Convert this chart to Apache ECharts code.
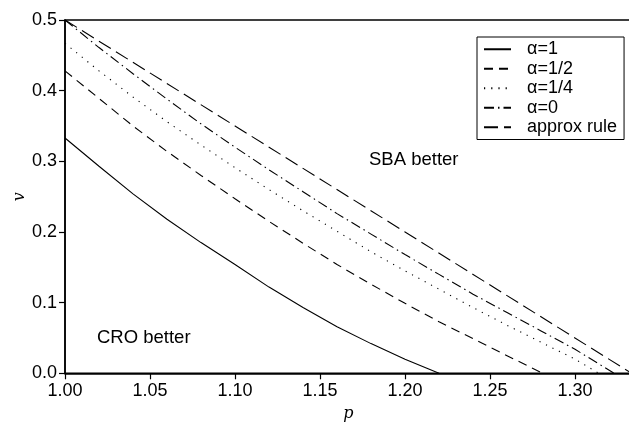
<!DOCTYPE html>
<html>
<head>
<meta charset="utf-8">
<script src="https://cdn.jsdelivr.net/npm/echarts@6/dist/echarts.min.js"></script>
<style>
  html, body { margin: 0; padding: 0; background: #fff; }
  #chart { width: 629px; height: 423px; }
</style>
</head>
<body>
<div id="chart"></div>
<script>
// values
const pAlpha1 = [1.00, 1.02, 1.04, 1.06, 1.08, 1.10, 1.12, 1.14, 1.16, 1.18, 1.20, 1.22];
const vAlpha1 = [0.333, 0.293, 0.254, 0.218, 0.185, 0.154, 0.122, 0.093, 0.066, 0.042, 0.020, 0.0];

const pAlphaHalf = [1.00, 1.02, 1.04, 1.06, 1.08, 1.10, 1.12, 1.14, 1.16, 1.18, 1.20, 1.22, 1.24, 1.26, 1.281];
const vAlphaHalf = [0.428, 0.389, 0.350, 0.314, 0.280, 0.247, 0.215, 0.184, 0.154, 0.126, 0.099, 0.073, 0.049, 0.025, 0.0];

const pAlphaQuarter = [1.00, 1.02, 1.04, 1.06, 1.08, 1.10, 1.12, 1.14, 1.16, 1.18, 1.20, 1.22, 1.24, 1.26, 1.28, 1.30, 1.314];
const vAlphaQuarter = [0.467, 0.428, 0.391, 0.356, 0.323, 0.291, 0.260, 0.230, 0.201, 0.172, 0.145, 0.119, 0.093, 0.068, 0.044, 0.020, 0.0];

const pAlpha0 = [1.00, 1.02, 1.04, 1.06, 1.08, 1.10, 1.12, 1.14, 1.16, 1.18, 1.20, 1.22, 1.24, 1.26, 1.28, 1.30, 1.323];
const vAlpha0 = [0.500, 0.461, 0.424, 0.388, 0.353, 0.320, 0.288, 0.257, 0.226, 0.197, 0.168, 0.140, 0.112, 0.086, 0.060, 0.034, 0.0];

const pApprox = [1.00, 1.10, 1.20, 1.3333];
const vApprox = [0.500, 0.350, 0.200, 0.0];

const seriesNames = ['α=1', 'α=1/2', 'α=1/4', 'α=0', 'approx rule'];
const xTicks = [1.00, 1.05, 1.10, 1.15, 1.20, 1.25, 1.30];
const yTicks = [0.0, 0.1, 0.2, 0.3, 0.4, 0.5];

const zip = (xs, ys) => xs.map((x, i) => [x, ys[i]]);
const font = 'Liberation Sans, Arial, Helvetica, sans-serif';

const chart = echarts.init(document.getElementById('chart'));

const mkLine = (name, data, type) => ({
    name: name,
    type: 'line',
    data: data,
    symbol: 'none',
    silent: true,
    animation: false,
    itemStyle: { color: '#000' },
    lineStyle: { color: '#000', width: 1.1, type: type }
});

chart.setOption({
    backgroundColor: '#fff',
    animation: false,
    textStyle: { fontFamily: font, color: '#000' },
    grid: {
        left: 65, top: 20, width: 566.7, height: 353.3,
        show: true, borderColor: '#000', borderWidth: 1.5,
        outerBoundsMode: 'none'
    },
    legend: {
        orient: 'vertical',
        left: 477, top: 37,
        padding: [3, 7, 3, 6],
        borderColor: '#000', borderWidth: 1, borderRadius: 0,
        itemWidth: 27, itemHeight: 10, itemGap: 1,
        itemStyle: { opacity: 0 },
        data: seriesNames,
        textStyle: { fontSize: 18, lineHeight: 18.5, color: '#000', fontFamily: font, padding: [0, 0, 0, 11] },
        selectedMode: false
    },
    xAxis: {
        type: 'value', min: 1, max: 4 / 3, interval: 0.05,
        name: 'p', nameLocation: 'middle', nameGap: 33, nameMoveOverlap: false,
        nameTextStyle: { fontFamily: 'DejaVu Serif, serif', fontStyle: 'italic', fontSize: 16, color: '#000' },
        axisLine: { onZero: false, lineStyle: { color: '#000', width: 1.5 } },
        axisTick: { length: 6, lineStyle: { color: '#000', width: 1.2 } },
        splitLine: { show: false },
        showMaxLabel: false,
        axisLabel: {
            fontSize: 18, color: '#000', margin: 9,
            formatter: v => (xTicks.some(t => Math.abs(t - v) < 1e-6) ? v.toFixed(2) : '')
        }
    },
    yAxis: {
        type: 'value', min: 0, max: 0.5, interval: 0.1,
        name: 'v', nameLocation: 'middle', nameGap: 37, nameRotate: 90, nameMoveOverlap: false,
        nameTextStyle: { fontFamily: 'DejaVu Serif, serif', fontStyle: 'italic', fontSize: 16, color: '#000' },
        axisLine: { onZero: false, lineStyle: { color: '#000', width: 1.5 } },
        axisTick: { length: 6, lineStyle: { color: '#000', width: 1.2 } },
        splitLine: { show: false },
        axisLabel: {
            fontSize: 18, color: '#000', margin: 8,
            formatter: v => (yTicks.some(t => Math.abs(t - v) < 1e-6) ? v.toFixed(1) : '')
        }
    },
    graphic: [
        { type: 'text', left: 369, top: 150, style: { text: 'SBA better', fontSize: 18.5, fontFamily: font, fill: '#000' } },
        { type: 'text', left: 97, top: 328, style: { text: 'CRO better', fontSize: 18.5, fontFamily: font, fill: '#000' } }
    ],
    series: [
        mkLine(seriesNames[0], zip(pAlpha1, vAlpha1), 'solid'),
        mkLine(seriesNames[1], zip(pAlphaHalf, vAlphaHalf), [9, 6]),
        mkLine(seriesNames[2], zip(pAlphaQuarter, vAlphaQuarter), [1.2, 6]),
        mkLine(seriesNames[3], zip(pAlpha0, vAlpha0), [10, 4, 1.5, 4]),
        mkLine(seriesNames[4], zip(pApprox, vApprox), [14, 6])
    ]
});

window.onresize = () => chart.resize();
</script>
</body>
</html>
